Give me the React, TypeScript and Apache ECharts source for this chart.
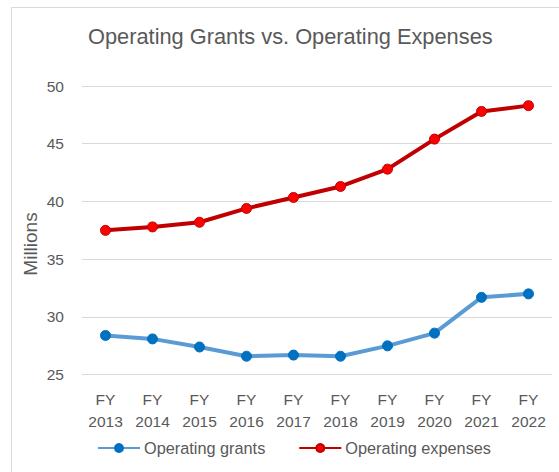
import React, { useEffect, useRef } from "react";
import * as echarts from "echarts";

const categories = ["FY\n2013", "FY\n2014", "FY\n2015", "FY\n2016", "FY\n2017", "FY\n2018", "FY\n2019", "FY\n2020", "FY\n2021", "FY\n2022"];
const operatingGrants = [28.4, 28.1, 27.4, 26.6, 26.7, 26.6, 27.5, 28.6, 31.7, 32.0];
const operatingExpenses = [37.5, 37.8, 38.2, 39.4, 40.35, 41.3, 42.8, 45.4, 47.8, 48.3];
const titleText = "Operating Grants vs. Operating Expenses";
const yAxisName = "Millions";

const FONT = "Liberation Sans";
const TXT = "#595959";

export default function App() {
  const ref = useRef<HTMLDivElement>(null);
  useEffect(() => {
    if (!ref.current) return;
    const chart = echarts.init(ref.current, null, { renderer: "svg" });
    chart.setOption({
      animation: false,
      backgroundColor: "#ffffff",
      title: {
        text: titleText,
        left: 88,
        top: 25,
        padding: 0,
        textStyle: { fontFamily: FONT, fontSize: 21.8, fontWeight: "normal", color: TXT },
      },
      legend: {
        left: 97,
        top: 440,
        padding: 0,
        itemWidth: 42,
        itemHeight: 10,
        itemGap: 33,
        textStyle: { fontFamily: FONT, fontSize: 16.3, color: TXT, padding: [0, 0, 0, -1] },
        data: ["Operating grants", "Operating expenses"],
      },
      graphic: [
        {
          type: "rect",
          shape: { x: 11.5, y: 7.5, width: 700, height: 700 },
          style: { fill: "none", stroke: "#d9d9d9", lineWidth: 1 },
          silent: true,
        },
        {
          type: "text",
          x: 30,
          y: 244,
          rotation: Math.PI / 2,
          style: {
            text: yAxisName,
            fontFamily: FONT,
            fontSize: 19,
            fill: TXT,
            align: "center",
            verticalAlign: "middle",
          },
        },
      ],
      grid: { left: 82, right: 7, top: 86, bottom: 97.3 },
      xAxis: {
        type: "category",
        data: categories,
        boundaryGap: true,
        axisLine: { show: false },
        axisTick: { show: false },
        axisLabel: {
          fontFamily: FONT,
          fontSize: 15.5,
          color: TXT,
          lineHeight: 22,
          margin: 14,
        },
      },
      yAxis: {
        type: "value",
        min: 25,
        max: 50,
        interval: 5,
        axisLine: { show: false },
        axisTick: { show: false },
        axisLabel: { fontFamily: FONT, fontSize: 15.5, color: TXT, margin: 18 },
        splitLine: { lineStyle: { color: "#d9d9d9", width: 1 } },
      },
      series: [
        {
          name: "Operating grants",
          type: "line",
          data: operatingGrants,
          symbol: "circle",
          symbolSize: 10,
          lineStyle: { color: "#5B9BD5", width: 4 },
          itemStyle: { color: "#0070C0", borderColor: "#0070C0", borderWidth: 1 },
        },
        {
          name: "Operating expenses",
          type: "line",
          data: operatingExpenses,
          symbol: "circle",
          symbolSize: 10,
          lineStyle: { color: "#C00000", width: 4 },
          itemStyle: { color: "#FF0000", borderColor: "#C00000", borderWidth: 1 },
        },
      ],
    });
    return () => chart.dispose();
  }, []);
  return <div ref={ref} style={{ position: "fixed", left: 0, top: 0, width: 559, height: 472 }} />;
}
